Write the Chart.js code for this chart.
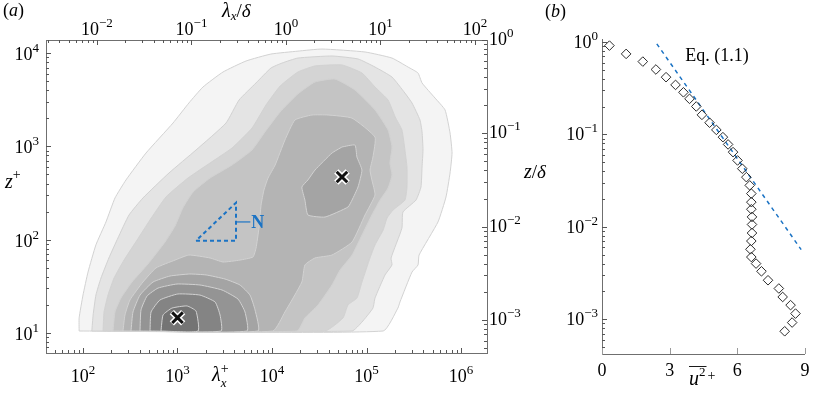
<!DOCTYPE html>
<html>
<head>
<meta charset="utf-8">
<script src="https://cdn.jsdelivr.net/npm/chart.js@4.4.1/dist/chart.umd.min.js"></script>
<style>
  html, body { margin: 0; padding: 0; background: #fff; }
  #wrap { position: relative; width: 829px; height: 399px; overflow: hidden; }
  canvas { position: absolute; top: 0; }
  #chartA { left: 0; }
  #chartB { left: 540px; }
</style>
</head>
<body>
<div id="wrap">
  <canvas id="chartA" width="570" height="399"></canvas>
  <canvas id="chartB" width="289" height="399"></canvas>
</div>
<script>
// ── Data ──────────────────────────────────────────────────────────────────────
// axis decades / ticks
const lambdaPlusDecades  = [2, 3, 4, 5, 6];
const lambdaDeltaDecades = [-2, -1, 0, 1, 2];
const zPlusDecades       = [1, 2, 3, 4];
const zDeltaDecades      = [-3, -2, -1, 0];
const u2Ticks            = [0, 3, 6, 9];

// filled contour levels of the premultiplied spectrum, [lambda_x+, z+] vertices
const level1 = [[91,10.5],[91,14.5],[100,25.5],[113,45],[137,88],[175,155],[218,280],[285,437],[464,849],[896,1780],[1320,2920],[1860,4330],[3030,6270],[5310,8230],[9750,9770],[18800,10500],[33800,11060],[96400,10280],[186000,8850],[275000,7090],[351000,6120],[387000,4790],[531000,3300],[678000,2460],[766000,1390],[804000,849],[766000,519],[694000,287],[571000,155],[360000,68.5],[351000,53.6],[303000,45],[226000,21.5],[215000,18.5],[150000,10.5]];
const level2 = [[124,10.5],[128,15.6],[137,25.5],[155,38.8],[188,63.7],[234,104],[307,184],[431,280],[813,519],[1570,915],[3260,1780],[4480,3140],[6780,4790],[9750,6920],[12800,7830],[18800,8850],[43100,9310],[81300,8650],[123000,7090],[186000,5540],[255000,3730],[303000,2920],[368000,1920],[387000,1430],[396000,915],[387000,601],[377000,367],[334000,266],[243000,198],[237000,133],[182000,63.7],[186000,53.6],[157000,41.9],[123000,23.7],[117000,18.5],[89500,13.1],[70300,10.5]];
const level3 = [[163,10.5],[167,16.8],[184,25.5],[213,38.8],[272,60.5],[373,99],[512,163],[755,287],[1290,458],[2210,664],[3780,962],[6140,1570],[8650,2780],[12200,4440],[18800,6270],[28500,7280],[55100,7450],[89500,6120],[123000,4330],[169000,3140],[201000,2070],[237000,1500],[255000,915],[268000,601],[268000,367],[255000,266],[191000,208],[165000,171],[150000,127],[123000,88],[109000,64],[89500,35.2],[79200,23.7],[63700,20],[56400,14.5],[36400,10.5]];
const level4 = [[208,10.5],[218,16.8],[252,23.7],[330,35.2],[487,54.9],[738,94.4],[942,140],[1140,219],[1460,324],[2210,458],[3780,632],[6140,915],[8430,1430],[12200,2340],[18800,3650],[28500,4900],[46400,5270],[75500,4020],[123000,2460],[169000,1500],[186000,986],[177000,664],[186000,494],[169000,358],[139000,266],[114000,184],[89500,112],[70300,68.5],[52500,47.3],[43100,32.7],[30700,20],[22300,14.5],[18400,10.5]];
const level5 = [[265,10.5],[278,15.6],[314,22.6],[431,35.2],[592,49.8],[942,60.5],[1320,68.5],[2210,63.7],[3030,57.7],[4580,60.5],[6300,65.3],[6780,81.5],[7280,133],[7660,235],[8220,341],[9080,458],[10800,632],[13700,1170],[17500,1920],[26500,2170],[39200,2170],[70300,2010],[123000,1260],[117000,769],[109000,558],[114000,437],[123000,301],[96400,184],[70300,94.4],[43100,68.5],[28500,63.7],[22300,53.6],[20700,35.2],[13700,16.8],[10200,10.5]];
const level6Wall  = [[322,10.5],[338,16.8],[401,25.5],[551,35.2],[833,40.8],[1350,42.9],[2010,41.9],[3180,37.9],[4580,32.7],[5850,25.5],[6610,17.7],[7110,10.5]];
const level6Outer = [[55100,986],[75500,1035],[79200,769],[89500,558],[81300,367],[70300,266],[63700,224],[36400,175],[24000,184],[22300,266],[20700,367],[24000,437],[28500,558],[43100,849]];
const level7 = [[401,10.5],[411,17.7],[476,24.9],[622,30.3],[988,33.5],[1730,32.7],[2960,28.9],[4370,23.1],[5180,16.8],[5430,10.5]];
const level8 = [[512,10.5],[525,16.8],[653,22.6],[1010,26.2],[1730,25.5],[2500,21.5],[2820,15.6],[2890,10.5]];
const level9 = [[669,10.5],[703,15.6],[875,18.5],[1260,19.5],[1570,17.2],[1650,10.5]];

const spectrumPeaks  = [[1000, 14.6], [55000, 470]];
const slopeTriangle  = [[1570, 97.5], [4160, 97.5], [4160, 249], [1570, 97.5]];
const slopeLabelLine = [[4160, 155], [5900, 155]];

// panel (b): streamwise variance profile
const u2Values = [0.33,1.07,1.81,2.39,2.84,3.26,3.61,3.88,4.18,4.43,4.77,5.07,5.36,5.59,5.81,6.01,6.22,6.40,6.55,6.62,6.62,6.62,6.65,6.65,6.65,6.62,6.58,6.62,6.83,7.07,7.36,7.84,8.01,8.36,8.58,8.43,8.10];
const zDeltaValues = [0.916,0.745,0.615,0.505,0.417,0.344,0.286,0.243,0.201,0.163,0.134,0.112,0.0935,0.078,0.0644,0.0523,0.0426,0.0345,0.0281,0.0229,0.0185,0.0155,0.0128,0.0106,0.00857,0.00702,0.00571,0.00471,0.0040,0.0033,0.00264,0.00215,0.00174,0.00142,0.00115,0.00092,0.00074];
const eqLineU2 = [2.43, 8.83];
const eqLineZ  = [0.957, 0.00567];

// ── Styles ───────────────────────────────────────────────────────────────────
const SERIF = '"Liberation Serif", "DejaVu Serif", serif';
const FRAME = '#6f6f6f';
const TICK  = '#555555';
const BLUE  = '#1b73c4';
const levelShades = ['#f4f4f4', '#e4e4e4', '#d4d4d4', '#c4c4c4', '#b4b4b4', '#a4a4a4', '#949494', '#848484', '#747474'];

// ── Helpers ──────────────────────────────────────────────────────────────────
function logTickValues(min, max) {
  const out = [];
  for (let e = Math.floor(Math.log10(min)); e <= Math.ceil(Math.log10(max)); e++) {
    for (let m = 1; m <= 9; m++) {
      const v = m * Math.pow(10, e);
      if (v >= min * 0.9999 && v <= max * 1.0001) out.push([v, m === 1]);
    }
  }
  return out;
}

function drawLogTicks(ctx, scale, side, a) {
  ctx.strokeStyle = TICK; ctx.lineWidth = 1;
  for (const [v, major] of logTickValues(scale.min, scale.max)) {
    const p = Math.round(scale.getPixelForValue(v)) + 0.5;
    const len = major ? 5 : 3;
    ctx.beginPath();
    if (side === 'bottom')      { ctx.moveTo(p, a.bottom); ctx.lineTo(p, a.bottom - len); }
    else if (side === 'top')    { ctx.moveTo(p, a.top);    ctx.lineTo(p, a.top + len); }
    else if (side === 'left')   { ctx.moveTo(a.left, p);   ctx.lineTo(a.left + len, p); }
    else                        { ctx.moveTo(a.right, p);  ctx.lineTo(a.right - len, p); }
    ctx.stroke();
  }
}

// "10^e" tick label
function drawPow(ctx, x, base, exp, align) {
  const es = exp < 0 ? '\u2212' + (-exp) : String(exp);
  ctx.font = `18px ${SERIF}`;
  const w1 = ctx.measureText('10').width;
  ctx.font = `13px ${SERIF}`;
  const w2 = ctx.measureText(es).width;
  const total = w1 + w2;
  const x0 = align === 'center' ? x - total / 2 : align === 'right' ? x - total : x;
  ctx.fillStyle = '#000'; ctx.textAlign = 'left'; ctx.textBaseline = 'alphabetic';
  ctx.font = `18px ${SERIF}`; ctx.fillText('10', x0, base);
  ctx.font = `13px ${SERIF}`; ctx.fillText(es, x0 + w1, base - 8);
}

// run of math-ish text pieces: [text, size, italic, dy, advance]
function mathRun(ctx, x, y, parts) {
  let cx = x;
  ctx.textAlign = 'left'; ctx.textBaseline = 'alphabetic';
  for (const [t, size, it, dy = 0, adv = true] of parts) {
    ctx.font = `${it ? 'italic ' : ''}${size}px ${SERIF}`;
    ctx.fillText(t, cx, y + dy);
    if (adv) cx += ctx.measureText(t).width;
  }
  return cx;
}

const toXY = pts => pts.map(([x, y]) => ({ x, y }));

// ── Panel (a): spectrogram ───────────────────────────────────────────────────
const contourLevels = [
  [level1, 0], [level2, 1], [level3, 2], [level4, 3], [level5, 4],
  [level6Wall, 5], [level6Outer, 5], [level7, 6], [level8, 7], [level9, 8]
];

const contourDatasets = contourLevels.map(([pts, lvl]) => ({
  data: toXY(pts.concat([pts[0]])),
  showLine: true, fill: 'shape',
  backgroundColor: levelShades[lvl], borderColor: '#d2d2d2', borderWidth: 1,
  pointRadius: 0, tension: 0.15, order: 50 - lvl
}));

const panelA = {
  id: 'panelA',
  afterDraw(chart) {
    const { ctx, chartArea: a, scales: s } = chart;
    ctx.save();
    // frame + inward ticks on all four sides
    ctx.strokeStyle = FRAME; ctx.lineWidth = 1;
    ctx.strokeRect(a.left + 0.5, a.top + 0.5, a.right - a.left, a.bottom - a.top);
    drawLogTicks(ctx, s.x, 'bottom', a);
    drawLogTicks(ctx, s.x2, 'top', a);
    drawLogTicks(ctx, s.y, 'left', a);
    drawLogTicks(ctx, s.y2, 'right', a);

    lambdaPlusDecades.forEach(e => drawPow(ctx, s.x.getPixelForValue(Math.pow(10, e)), 382, e, 'center'));
    lambdaDeltaDecades.forEach(e => drawPow(ctx, s.x2.getPixelForValue(Math.pow(10, e)), 35, e, 'center'));
    zPlusDecades.forEach(e => drawPow(ctx, 39, s.y.getPixelForValue(Math.pow(10, e)) + 7, e, 'right'));
    zDeltaDecades.forEach(e => drawPow(ctx, 489, s.y2.getPixelForValue(Math.pow(10, e)) + 5, e, 'left'));

    // axis titles
    ctx.fillStyle = '#000';
    mathRun(ctx, 222, 17, [['λ', 20, true], ['x', 13, true, 3], ['/', 19, false], ['δ', 19, true]]);
    mathRun(ctx, 212, 381, [['λ', 20, true], ['x', 13, true, 6, false], ['+', 14, false, -8]]);
    mathRun(ctx, 5, 188, [['z', 20, true], ['+', 14, false, -9]]);
    mathRun(ctx, 524, 178, [['z', 20, true], ['/', 19, false], ['δ', 19, true]]);
    mathRun(ctx, 3, 16, [['(', 18, false], ['a', 18, true], [')', 18, false]]);

    // slope label
    const nx = s.x.getPixelForValue(slopeLabelLine[1][0]);
    const ny = s.y.getPixelForValue(slopeLabelLine[1][1]);
    ctx.fillStyle = BLUE; ctx.font = `bold 18px ${SERIF}`;
    ctx.textAlign = 'left'; ctx.textBaseline = 'middle';
    ctx.fillText('N', nx + 1, ny + 1);
    ctx.restore();
  }
};

new Chart(document.getElementById('chartA'), {
  type: 'scatter',
  data: {
    datasets: [
      ...contourDatasets,
      {
        data: toXY(slopeTriangle), showLine: true, fill: false,
        borderColor: BLUE, borderWidth: 2, borderDash: [4, 3], pointRadius: 0, order: 5
      },
      {
        data: toXY(slopeLabelLine), showLine: true, fill: false,
        borderColor: BLUE, borderWidth: 1.2, pointRadius: 0, order: 5
      },
      {
        data: toXY(spectrumPeaks), pointStyle: 'crossRot', pointRadius: 8,
        pointBorderColor: '#fff', pointBorderWidth: 6, pointBackgroundColor: '#fff', order: 2
      },
      {
        data: toXY(spectrumPeaks), pointStyle: 'crossRot', pointRadius: 7.5,
        pointBorderColor: '#111', pointBorderWidth: 3, pointBackgroundColor: '#111', order: 1
      }
    ]
  },
  options: {
    responsive: false, animation: false, devicePixelRatio: 1, events: [],
    layout: { padding: { left: 46, top: 40, right: 83, bottom: 46 } },
    plugins: { legend: { display: false }, tooltip: { enabled: false } },
    scales: {
      x:  { type: 'logarithmic', position: 'bottom', min: 40.6,   max: 1.884e6, display: false },
      x2: { type: 'logarithmic', position: 'top',    min: 0.00289, max: 134,    display: false },
      y:  { type: 'logarithmic', position: 'left',   min: 6.105,  max: 13817,   display: false },
      y2: { type: 'logarithmic', position: 'right',  min: 4.42e-4, max: 1,      display: false }
    }
  },
  plugins: [panelA]
});

// ── Panel (b): variance profile ──────────────────────────────────────────────
const panelB = {
  id: 'panelB',
  afterDraw(chart) {
    const { ctx, chartArea: a, scales: s } = chart;
    ctx.save();
    ctx.strokeStyle = FRAME; ctx.lineWidth = 1;
    ctx.beginPath();
    ctx.moveTo(a.left + 0.5, a.top); ctx.lineTo(a.left + 0.5, a.bottom + 0.5);
    ctx.lineTo(a.right, a.bottom + 0.5);
    ctx.stroke();
    drawLogTicks(ctx, s.y, 'left', a);
    ctx.strokeStyle = '#9a9a9a';
    u2Ticks.forEach(v => {
      const p = Math.round(s.x.getPixelForValue(v)) + 0.5;
      ctx.beginPath(); ctx.moveTo(p, a.bottom); ctx.lineTo(p, a.bottom - 6); ctx.stroke();
    });

    zDeltaDecades.forEach(e => drawPow(ctx, 58, s.y.getPixelForValue(Math.pow(10, e)) + 6, e, 'right'));
    ctx.fillStyle = '#000'; ctx.font = `18px ${SERIF}`;
    ctx.textAlign = 'center'; ctx.textBaseline = 'alphabetic';
    u2Ticks.forEach(v => ctx.fillText(String(v), s.x.getPixelForValue(v), 376));

    // overline u^2 ^+
    const ux = 149;
    const end = mathRun(ctx, ux, 385, [['u', 20, true], ['2', 13, false, -9]]);
    ctx.strokeStyle = '#000'; ctx.lineWidth = 0.9;
    ctx.beginPath(); ctx.moveTo(ux, 366.5); ctx.lineTo(end + 1, 366.5); ctx.stroke();
    mathRun(ctx, end + 2, 380, [['+', 14, false]]);

    mathRun(ctx, 5, 17, [['(', 18, false], ['b', 18, true], [')', 18, false]]);

    ctx.font = `18px ${SERIF}`; ctx.textAlign = 'left';
    ctx.fillText('Eq. (1.1)', s.x.getPixelForValue(3.69), s.y.getPixelForValue(0.63));
    ctx.restore();
  }
};

new Chart(document.getElementById('chartB'), {
  type: 'scatter',
  data: {
    datasets: [
      {
        data: u2Values.map((u, i) => ({ x: u, y: zDeltaValues[i] })),
        pointStyle: 'rectRot', pointRadius: 4.8, pointBorderWidth: 1,
        pointBorderColor: '#2a2a2a', pointBackgroundColor: 'rgba(0,0,0,0)', order: 1
      },
      {
        data: eqLineU2.map((u, i) => ({ x: u, y: eqLineZ[i] })), showLine: true,
        borderColor: BLUE, borderWidth: 1.5, borderDash: [4, 4], pointRadius: 0, order: 2
      }
    ]
  },
  options: {
    responsive: false, animation: false, devicePixelRatio: 1, events: [],
    layout: { padding: { left: 62, top: 39, right: 24, bottom: 45 } },
    plugins: { legend: { display: false }, tooltip: { enabled: false } },
    scales: {
      x: { type: 'linear', min: 0, max: 9, display: false },
      y: { type: 'logarithmic', min: 4.2e-4, max: 1.08, display: false }
    }
  },
  plugins: [panelB]
});
</script>
</body>
</html>
